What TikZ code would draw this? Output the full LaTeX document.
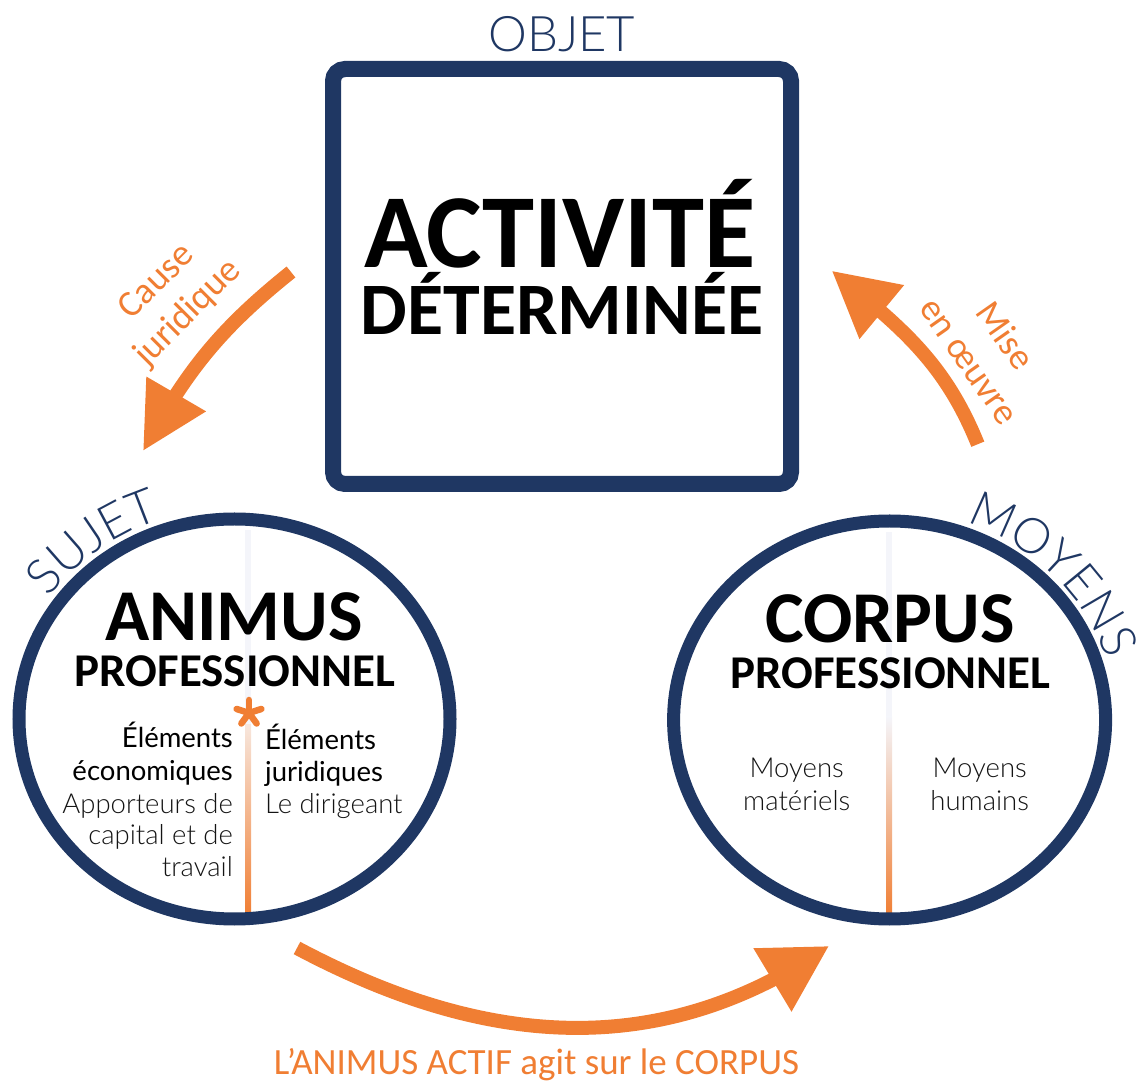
\documentclass[tikz,border=0pt]{standalone}
\usepackage{fontspec}
\setmainfont{Lato}
\newfontfamily\latolight{Lato Light}
\newfontfamily\carlito{Carlito}
\usetikzlibrary{arrows.meta,decorations.text,bending,shapes.geometric,calc}
\definecolor{navy}{HTML}{1F3763}
\definecolor{orng}{HTML}{F07E33}
\definecolor{lav}{HTML}{F4F5FA}
\definecolor{peach}{HTML}{F7E6DC}
\definecolor{lightink}{HTML}{141414}
\begin{document}
\begin{tikzpicture}[x=1pt,y=1pt,
  frame/.style={draw=navy, line width=16pt, rounded corners=12pt, rectangle, minimum width=458pt, minimum height=415pt, inner sep=0pt},
  ring/.style={draw=navy, line width=13pt, ellipse, inner sep=0pt},
  bigword/.style={font=\carlito\bfseries\fontsize{73}{73}\selectfont, inner sep=0pt, anchor=base},
  subword/.style={font=\carlito\bfseries\fontsize{47}{47}\selectfont, inner sep=0pt, anchor=base},
  tag/.style={font=\latolight\fontsize{49}{49}\selectfont, text=navy, inner sep=0pt, anchor=base},
  bodytxt/.style={font=\fontsize{27.5}{27.5}\selectfont, inner sep=0pt},
  lighttxt/.style={font=\latolight\fontsize{27.5}{27.5}\selectfont, inner sep=0pt, text=lightink},
  note/.style={font=\carlito\fontsize{37}{44}\selectfont, text=orng, align=center, inner sep=0pt},
  arrowline/.style={draw=orng, line width=14pt},
]
\useasboundingbox (0,0) rectangle (1140,1082);

% dividers
\fill[lav] (245,166) rectangle (251,552);
\shade[top color=peach, bottom color=orng] (245,166) rectangle (251,357);
\fill[lav] (886,166) rectangle (892,550);
\shade[top color=lav, bottom color=orng] (886,166) rectangle (892,365);

% main shapes
\node[frame] (objbox) at (562,805.5) {};
\node[ring, minimum width=431pt, minimum height=400pt] (animus) at (234.5,363) {};
\node[ring, minimum width=432pt, minimum height=398pt] (corpus) at (889.6,362) {};

% titles
\node[tag] (objet) at (562,1030) {OBJET};
\node[font=\carlito\bfseries\fontsize{105}{105}\selectfont, anchor=base, inner sep=0pt] (t1) at (560,814) {ACTIVITÉ};
\node[font=\carlito\bfseries\fontsize{74}{74}\selectfont, anchor=base, inner sep=0pt] (t2) at (562,747) {DÉTERMINÉE};

\path[decorate, decoration={text along path, text={|\latolight\fontsize{49}{49}\selectfont|SUJET}, text align=center, text color=navy}]
  ($(animus.center)+(165:227 and 211)$) arc[start angle=165, end angle=90, x radius=227, y radius=211];
\path[decorate, decoration={text along path, text={|\latolight\fontsize{49}{49}\selectfont|MOYENS}, text align=center, text color=navy}]
  ($(corpus.center)+(83:226 and 210)$) arc[start angle=83, end angle=3, x radius=226, y radius=210];

% left circle texts
\node[bigword] (an) at (234,441.3) {ANIMUS};
\node[subword] (anp) at (235,395.3) {PROFESSIONNEL};
\coordinate (ast) at (249,369);
\foreach \a in {90,162,234,306,18} \draw[orng, line width=6.5pt, line cap=round] (ast) -- ++(\a:13);
\node[bodytxt, anchor=base east] (l1) at (233,334) {Éléments};
\node[bodytxt, anchor=base east] (l2) at (233,301.3) {économiques};
\node[lighttxt, anchor=base east] (l3) at (233,269) {Apporteurs de};
\node[lighttxt, anchor=base east] (l4) at (233,237) {capital et de};
\node[lighttxt, anchor=base east] (l5) at (233,205.3) {travail};
\node[bodytxt, anchor=base west] (r1) at (265,332) {Éléments};
\node[bodytxt, anchor=base west] (r2) at (265,300.3) {juridiques};
\node[lighttxt, anchor=base west] (r3) at (265,268) {Le dirigeant};

% right circle texts
\node[bigword] (co) at (890,439) {CORPUS};
\node[subword] (cop) at (890.5,393) {PROFESSIONNEL};
\node[lighttxt, anchor=base] (m1) at (796.7,304) {Moyens};
\node[lighttxt, anchor=base] (m2) at (796.7,271.3) {matériels};
\node[lighttxt, anchor=base] (h1) at (979.7,304) {Moyens};
\node[lighttxt, anchor=base] (h2) at (979.7,271.3) {humains};

% arrows
\coordinate (c1s) at (291,810); \coordinate (c1t) at (143,631);
\draw[arrowline, -{Triangle[length=66pt,width=65pt]}] (c1s) to[out=218.7,in=61.7] (c1t);
\node[note, rotate=45] (cause) at (173,784) {Cause\\juridique};

\coordinate (c2s) at (977.8,637.8); \coordinate (c2t) at (831.7,811.3);
\draw[arrowline, -{Triangle[length=65pt,width=66pt]}] (c2s) to[out=112,in=-39] (c2t);
\node[note, rotate=-55] (mise) at (988,734) {Mise\\en œuvre};

\coordinate (c3s) at (297,134); \coordinate (c3t) at (829,136);
\draw[arrowline, -{Triangle[length=66pt,width=70pt]}] (c3s) to[out=-28,in=214.4] (c3t);
\node[font=\carlito\fontsize{37}{40}\selectfont, text=orng, anchor=base, inner sep=0pt] (act) at (536.5,8) {L’ANIMUS ACTIF agit sur le CORPUS};
\end{tikzpicture}
\end{document}
